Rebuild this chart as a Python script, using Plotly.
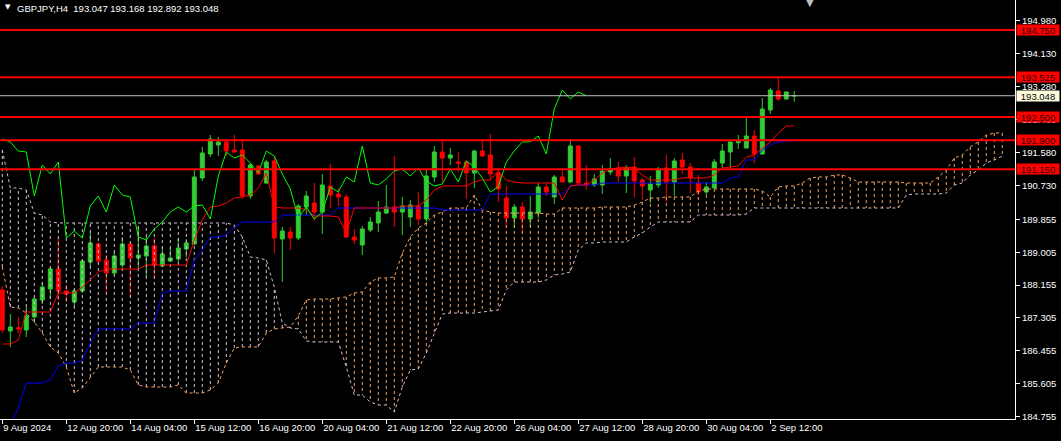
import plotly.graph_objects as go

# ---------------- data ----------------
symbol_title = "GBPJPY,H4  193.047 193.168 192.892 193.048"

x_tick_bars = [0, 8, 16, 24, 32, 40, 48, 56, 64, 72, 80, 88, 96]
x_tick_text = ["9 Aug 2024", "12 Aug 20:00", "14 Aug 04:00", "15 Aug 12:00",
               "16 Aug 20:00", "20 Aug 04:00", "21 Aug 12:00", "22 Aug 20:00",
               "26 Aug 04:00", "27 Aug 12:00", "28 Aug 20:00", "30 Aug 04:00",
               "2 Sep 12:00"]

y_tick_vals = [194.980, 194.130, 193.280, 192.430, 191.580, 190.730, 189.855,
               189.005, 188.155, 187.305, 186.455, 185.605, 184.755]

level_lines = [194.750, 193.525, 192.500, 191.900, 191.150]
bid_price = 193.048

opens = [188.028, 186.969, 187.054, 186.995, 187.331, 187.770, 188.054, 188.571, 188.003, 187.718,
         188.003, 188.752, 189.217, 188.804, 188.468, 188.674, 189.217, 188.855, 188.907, 189.165,
         188.649, 188.778, 188.829, 189.088, 189.217, 190.923, 191.543, 191.775, 191.853, 191.646,
         191.646, 190.457, 191.233, 190.793, 191.362, 189.346, 189.527, 189.372, 190.173, 190.277,
         190.044, 190.716, 190.509, 190.432, 189.398, 189.191, 189.579, 189.760, 190.018, 190.173,
         190.044, 189.915, 190.199, 189.863, 190.948, 191.594, 191.439, 191.336, 191.336, 191.052,
         191.620, 191.517, 191.052, 190.406, 189.889, 190.173, 189.863, 190.018, 190.690, 190.432,
         190.948, 190.819, 191.749, 190.793, 190.742, 190.742, 191.078, 191.181, 190.974, 191.207,
         190.871, 190.612, 190.742, 191.181, 190.819, 191.388, 191.207, 190.793, 190.561, 190.664,
         191.310, 191.594, 191.835, 191.698, 192.008, 191.543, 192.680, 193.171, 192.964, 193.047]
highs = [188.132, 187.408, 187.331, 187.589, 187.848, 188.209, 188.623, 189.372, 188.158, 188.054,
         188.804, 189.501, 189.269, 188.933, 189.010, 189.398, 189.230, 189.656, 189.398, 189.372,
         189.139, 189.114, 189.372, 189.346, 191.129, 191.724, 192.034, 191.982, 191.930, 192.034,
         191.930, 191.310, 191.258, 191.388, 191.465, 189.656, 189.656, 190.251, 190.587, 190.793,
         191.026, 191.284, 190.664, 190.509, 189.605, 189.682, 189.915, 190.328, 190.742, 191.491,
         190.432, 190.354, 190.561, 191.155, 191.749, 191.904, 191.698, 191.594, 191.388, 191.646,
         191.930, 192.060, 191.181, 190.716, 190.251, 190.302, 190.457, 190.793, 190.793, 191.000,
         191.181, 191.930, 191.775, 191.258, 191.026, 191.258, 191.439, 191.336, 191.258, 191.465,
         190.923, 190.974, 191.207, 191.517, 191.439, 191.568, 191.310, 191.000, 190.819, 191.413,
         191.801, 191.860, 192.034, 192.525, 192.163, 192.990, 193.248, 193.532, 193.160, 193.168]
lows = [186.918, 186.556, 186.918, 186.814, 187.176, 187.667, 187.796, 187.770, 187.718, 187.589,
        187.951, 188.623, 188.726, 187.977, 188.416, 188.597, 187.848, 188.571, 188.365, 188.365,
        188.623, 188.752, 188.752, 188.881, 189.191, 190.845, 191.465, 191.491, 191.491, 191.568,
        190.380, 190.380, 191.000, 190.768, 188.984, 188.235, 189.062, 189.320, 189.966, 189.811,
        189.475, 190.147, 190.199, 189.372, 189.217, 188.933, 189.527, 189.527, 189.992, 189.656,
        189.450, 189.656, 189.708, 189.734, 190.819, 190.819, 191.258, 191.078, 190.380, 190.664,
        191.465, 190.871, 190.302, 189.630, 189.630, 189.501, 189.656, 189.889, 190.457, 190.251,
        190.819, 190.793, 190.742, 190.612, 190.690, 190.509, 191.000, 190.819, 190.535, 190.432,
        190.354, 190.277, 190.664, 190.302, 190.457, 191.026, 190.535, 190.483, 190.483, 190.664,
        191.181, 191.129, 191.672, 191.690, 191.310, 191.530, 192.576, 192.912, 192.950, 192.892]
closes = [186.995, 187.072, 187.021, 187.357, 187.796, 188.106, 188.571, 188.003, 187.925, 188.003,
          188.778, 189.243, 188.778, 188.468, 188.907, 189.217, 188.855, 188.933, 189.165, 188.674,
          188.959, 188.855, 189.114, 189.243, 190.948, 191.568, 191.930, 191.853, 191.620, 191.594,
          190.457, 191.258, 191.026, 191.336, 189.372, 189.553, 189.372, 190.199, 190.457, 190.044,
          190.742, 190.483, 190.432, 189.398, 189.320, 189.605, 189.786, 190.044, 190.173, 190.044,
          190.199, 190.225, 189.863, 190.974, 191.594, 191.439, 191.517, 191.310, 191.052, 191.620,
          191.491, 191.026, 190.638, 189.889, 190.173, 189.863, 190.044, 190.690, 190.561, 190.948,
          190.819, 191.749, 190.793, 190.742, 190.897, 191.103, 191.155, 190.974, 191.181, 190.845,
          190.716, 190.768, 191.155, 190.819, 191.362, 191.207, 190.923, 190.561, 190.690, 191.336,
          191.620, 191.853, 191.860, 192.008, 191.543, 192.705, 193.196, 192.964, 193.145, 193.048]

# Tenkan-sen (red) per bar
tenkan = [186.633, 186.633, 186.736, 187.460, 187.460, 187.460, 187.460, 187.951, 187.951, 187.951,
          188.106, 188.287, 188.494, 188.571, 188.571, 188.571, 188.571, 188.571, 188.674, 188.674,
          188.674, 188.674, 188.674, 188.674, 189.320, 189.837, 190.173, 190.199, 190.277, 190.406,
          190.432, 190.483, 190.664, 191.052, 190.173, 190.147, 190.147, 190.147, 190.096, 189.941,
          189.941, 189.941, 189.915, 189.500, 190.147, 190.147, 190.147, 190.147, 190.147, 190.147,
          190.199, 190.199, 190.199, 190.354, 190.612, 190.716, 190.716, 190.716, 190.716, 190.819,
          190.871, 190.871, 191.103, 190.871, 190.819, 190.793, 190.793, 190.793, 190.793, 190.793,
          190.354, 190.716, 190.742, 190.742, 190.871, 191.052, 191.155, 191.181, 191.207, 191.181,
          191.000, 190.871, 190.871, 190.871, 190.871, 190.923, 190.923, 190.923, 190.923, 191.000,
          191.181, 191.207, 191.233, 191.465, 191.517, 191.698, 191.853, 192.085, 192.266, 192.266]

# Kijun-sen (blue) per bar
kijun = [184.150, 184.540, 184.979, 185.625, 185.625, 185.625, 185.703, 186.065, 186.142, 186.142,
         186.220, 186.659, 187.021, 187.021, 187.021, 187.021, 187.021, 187.176, 187.176, 187.176,
         187.951, 188.003, 188.003, 188.003, 188.804, 189.062, 189.398, 189.398, 189.450, 189.656,
         189.786, 189.786, 189.786, 189.786, 189.786, 189.966, 189.966, 189.966, 189.966, 189.966,
         189.966, 189.966, 190.147, 190.147, 190.147, 190.147, 190.147, 190.147, 190.147, 190.147,
         190.147, 190.147, 190.147, 190.147, 190.147, 190.096, 190.096, 190.096, 190.096, 190.096,
         190.096, 190.509, 190.509, 190.509, 190.509, 190.509, 190.509, 190.509, 190.509, 190.509,
         190.509, 190.716, 190.742, 190.742, 190.742, 190.793, 190.793, 190.793, 190.793, 190.793,
         190.793, 190.793, 190.793, 190.793, 190.793, 190.793, 190.793, 190.793, 190.793, 190.793,
         190.793, 190.923, 190.948, 191.388, 191.388, 191.646, 191.775, 191.853, 191.879, 191.879]

# Senkou span A (sandy brown) and B (thistle), bars 0..125 (shifted 26 ahead)
senkou_a = [188.623, 187.589, 187.563, 187.434, 187.202, 186.918, 186.556, 186.400, 186.039, 185.367,
            185.496, 185.780, 186.039, 186.039, 186.039, 186.039, 185.961, 185.574, 185.522, 185.522,
            185.522, 185.522, 185.574, 185.367, 185.367, 185.367, 185.444, 185.625, 186.142, 186.530,
            186.556, 186.556, 186.556, 186.918, 187.021, 187.047, 187.072, 187.357, 187.770, 187.796,
            187.796, 187.796, 187.822, 187.848, 187.951, 187.977, 188.235, 188.340, 188.340, 188.365,
            188.984, 189.398, 189.630, 189.760, 189.966, 190.044, 190.147, 190.147, 190.147, 190.483,
            190.096, 190.044, 190.018, 190.018, 190.018, 190.018, 190.018, 190.018, 189.992, 189.992,
            190.147, 190.147, 190.147, 190.147, 190.147, 190.173, 190.173, 190.173, 190.173, 190.225,
            190.302, 190.406, 190.406, 190.432, 190.432, 190.432, 190.432, 190.587, 190.638, 190.638,
            190.638, 190.638, 190.638, 190.638, 190.638, 190.587, 190.432, 190.690, 190.716, 190.716,
            190.793, 190.923, 190.948, 190.948, 191.000, 191.000, 190.923, 190.819, 190.819, 190.819,
            190.819, 190.819, 190.819, 190.793, 190.793, 190.793, 190.793, 190.948, 191.129, 191.439,
            191.517, 191.724, 191.853, 192.034, 192.085, 192.085]
senkou_b = [191.646, 190.664, 190.664, 190.612, 190.018, 189.966, 189.786, 189.760, 189.760, 189.760,
            189.760, 189.760, 189.760, 189.760, 189.760, 189.760, 189.760, 189.760, 189.760, 189.760,
            189.760, 189.760, 189.760, 189.760, 189.760, 189.760, 189.760, 189.760, 189.760, 189.708,
            189.398, 188.881, 188.855, 188.804, 188.106, 187.176, 187.047, 187.021, 186.710, 186.685,
            186.685, 186.685, 186.685, 186.039, 185.315, 185.315, 185.135, 185.057, 185.057, 184.876,
            185.522, 185.961, 185.987, 186.400, 186.918, 187.408, 187.434, 187.434, 187.434, 187.434,
            187.460, 187.486, 187.512, 188.028, 188.235, 188.235, 188.235, 188.235, 188.287, 188.416,
            188.442, 188.494, 189.062, 189.243, 189.243, 189.269, 189.269, 189.269, 189.269, 189.398,
            189.501, 189.656, 189.786, 189.786, 189.786, 189.786, 189.786, 189.966, 189.966, 189.966,
            189.966, 189.966, 189.966, 189.992, 190.147, 190.147, 190.147, 190.147, 190.147, 190.147,
            190.147, 190.147, 190.147, 190.147, 190.147, 190.147, 190.147, 190.147, 190.147, 190.147,
            190.147, 190.147, 190.147, 190.483, 190.509, 190.509, 190.509, 190.509, 190.535, 190.742,
            190.793, 191.000, 191.129, 191.310, 191.388, 191.491]

CHIKOU_SHIFT = 26

# ---------------- figure ----------------
bars = list(range(len(closes)))
cloud_bars = list(range(len(senkou_a)))

fig = go.Figure()

fig.add_trace(go.Candlestick(
    x=bars, open=opens, high=highs, low=lows, close=closes,
    increasing=dict(line=dict(color="#32CD32", width=1), fillcolor="#32CD32"),
    decreasing=dict(line=dict(color="#FF0000", width=1), fillcolor="#FF0000"),
    whiskerwidth=0, hoverinfo="skip"))

# cloud hatching: vertical dotted lines between the spans
hx_o, hy_o, hx_t, hy_t = [], [], [], []
for i, a, b in zip(cloud_bars, senkou_a, senkou_b):
    if a >= b:
        hx_o += [i, i, None]
        hy_o += [a, b, None]
    else:
        hx_t += [i, i, None]
        hy_t += [a, b, None]
fig.add_trace(go.Scatter(x=hx_o, y=hy_o, mode="lines",
                         line=dict(color="#F4A460", width=1, dash="3px,3px"),
                         hoverinfo="skip"))
fig.add_trace(go.Scatter(x=hx_t, y=hy_t, mode="lines",
                         line=dict(color="#D8BFD8", width=1, dash="3px,3px"),
                         hoverinfo="skip"))
fig.add_trace(go.Scatter(x=cloud_bars, y=senkou_a, mode="lines",
                         line=dict(color="#F4A460", width=1, dash="3px,3px")))
fig.add_trace(go.Scatter(x=cloud_bars, y=senkou_b, mode="lines",
                         line=dict(color="#D8BFD8", width=1, dash="3px,3px")))

fig.add_trace(go.Scatter(x=bars, y=kijun, mode="lines", line=dict(color="#0000FF", width=1)))
fig.add_trace(go.Scatter(x=bars, y=tenkan, mode="lines", line=dict(color="#FF0000", width=1)))
fig.add_trace(go.Scatter(x=bars[:len(closes) - CHIKOU_SHIFT], y=closes[CHIKOU_SHIFT:],
                         mode="lines", line=dict(color="#00FF00", width=1)))

# horizontal levels
for lv in level_lines:
    fig.add_hline(y=lv, line_color="#FF0000", line_width=2)
    fig.add_annotation(x=1, xref="paper", y=lv, yref="y", xanchor="left", xshift=1,
                       text=f"{lv:.3f}", showarrow=False, bgcolor="#FF0000",
                       font=dict(color="#300000", size=9.5), width=42, height=10, borderpad=0)
fig.add_hline(y=bid_price, line_color="#C0C0C0", line_width=1)
fig.add_annotation(x=1, xref="paper", y=bid_price, yref="y", xanchor="left", xshift=1,
                   text=f"{bid_price:.3f}", showarrow=False, bgcolor="#FFFFE0",
                   font=dict(color="#000000", size=9.5), width=42, height=10, borderpad=0)

# title and markers
fig.add_annotation(x=0, xref="paper", y=1, yref="paper", xanchor="left", yanchor="top",
                   xshift=3, yshift=-1, text="▼", showarrow=False,
                   font=dict(color="#FFFFFF", size=7, family="DejaVu Sans"))
fig.add_annotation(x=0, xref="paper", y=1, yref="paper", xanchor="left", yanchor="top",
                   xshift=15, yshift=-1, text=symbol_title, showarrow=False,
                   font=dict(color="#FFFFFF", size=9.5))
fig.add_annotation(x=810 / 1015, xref="paper", y=1, yref="paper", xanchor="center", yanchor="top",
                   yshift=5, text="▼", showarrow=False,
                   font=dict(color="#C0C0C0", size=10, family="DejaVu Sans"))

fig.update_layout(
    width=1061, height=441,
    margin=dict(l=0, r=46, t=0, b=22, autoexpand=False),
    paper_bgcolor="#000000", plot_bgcolor="#000000",
    showlegend=False,
    font=dict(family="Liberation Sans, Arial, sans-serif", size=9.5, color="#FFFFFF"),
)
fig.update_xaxes(
    range=[-0.2875, 126.59], tickmode="array", tickvals=x_tick_bars, ticktext=x_tick_text,
    ticks="outside", ticklen=4, tickcolor="#FFFFFF", ticklabelposition="outside right",
    tickangle=0, automargin=False,
    showgrid=False, zeroline=False, showline=True, linecolor="#FFFFFF", linewidth=1,
    mirror=True, rangeslider=dict(visible=False), tickfont=dict(size=9.5, color="#FFFFFF"))
fig.update_yaxes(
    side="right", range=[184.695, 195.522], tickmode="array", tickvals=y_tick_vals,
    ticktext=[f"{v:.3f}" for v in y_tick_vals], ticks="outside", ticklen=4, automargin=False,
    tickcolor="#FFFFFF", showgrid=False, zeroline=False, showline=True,
    linecolor="#FFFFFF", linewidth=1, mirror=True, tickfont=dict(size=9.5, color="#FFFFFF"))

fig.write_html("out.html", config={"displayModeBar": False},
               post_script="document.body.style.margin='0px';document.body.style.background='#000';")
